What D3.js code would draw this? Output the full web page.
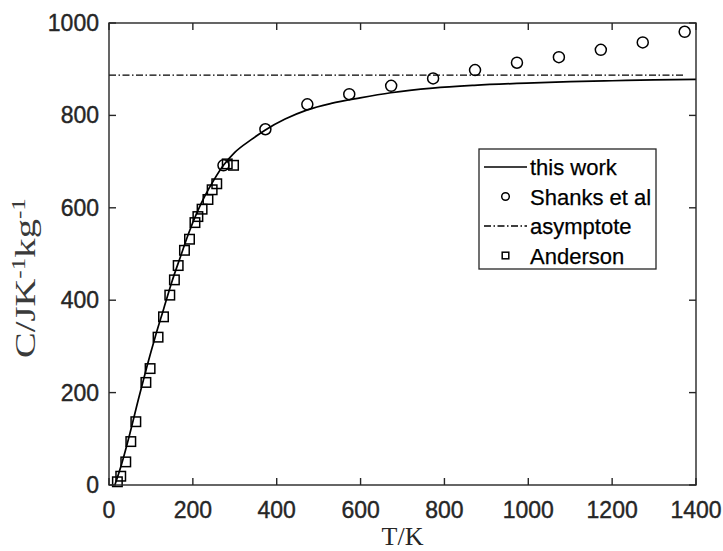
<!DOCTYPE html>
<html>
<head>
<meta charset="utf-8">
<script src="https://cdn.jsdelivr.net/npm/d3@7"></script>
<style>
  body { margin: 0; background: #fff; }
  svg { display: block; }
</style>
</head>
<body>
<script>
// this work (curve)
var curveT = [14, 30, 50, 70, 90, 110, 130, 150, 170, 190, 210, 230, 250, 273, 300, 340, 372, 420, 473, 530, 599, 672, 772, 871, 996, 1100, 1200, 1300, 1400];
var curveC = [0, 45, 112, 185, 255, 320, 380, 440, 493, 545, 590, 628, 660, 692, 720, 748, 768, 792, 812, 826, 838, 849, 859, 865, 870, 873, 875, 877, 878];

// Shanks et al
var shanksT = [273, 373, 473, 573, 673, 773, 873, 973, 1073, 1173, 1273, 1373];
var shanksC = [692, 770, 824, 846, 864, 880, 898, 914, 926, 942, 958, 981];

// asymptote
var asymT = [0, 1370];
var asymC = [887, 887];

// Anderson
var andT = [20, 28, 40, 52, 64, 88, 98, 117, 130, 145, 156, 165, 180, 192, 205, 212, 222, 236, 246, 257, 282, 297];
var andC = [7, 19, 50, 94, 137, 222, 252, 320, 364, 411, 444, 475, 508, 532, 568, 581, 597, 618, 639, 652, 695, 692];

var xTicks = [0, 200, 400, 600, 800, 1000, 1200, 1400];
var yTicks = [0, 200, 400, 600, 800, 1000];

var width = 723, height = 551;
var mLeft = 109, mRight = 696, mTop = 23, mBottom = 485;
var axisColor = '#262626';

var svg = d3.select('body')
            .append('svg')
            .attr('width', width)
            .attr('height', height);

var x = d3.scaleLinear().domain([0, 1400]).range([mLeft, mRight]);
var y = d3.scaleLinear().domain([0, 1000]).range([mBottom, mTop]);

function zip(a, b) {
    return a.map(function (d, i) { return [d, b[i]]; });
}

var line = d3.line()
    .x(function (d) { return x(d[0]); })
    .y(function (d) { return y(d[1]); });

// asymptote
svg.append('path')
    .attr('d', line(zip(asymT, asymC)))
    .attr('fill', 'none')
    .attr('stroke', '#000')
    .attr('stroke-width', 1.3)
    .attr('stroke-dasharray', '7,2.5,1.5,2.5');

// this work
svg.append('path')
    .attr('d', line.curve(d3.curveMonotoneX)(zip(curveT, curveC)))
    .attr('fill', 'none')
    .attr('stroke', '#000')
    .attr('stroke-width', 1.7);

// Shanks circles
svg.selectAll('circle.shanks')
    .data(zip(shanksT, shanksC))
    .enter()
    .append('circle')
    .attr('class', 'shanks')
    .attr('cx', function (d) { return x(d[0]); })
    .attr('cy', function (d) { return y(d[1]); })
    .attr('r', 5.5)
    .attr('fill', 'none')
    .attr('stroke', '#000')
    .attr('stroke-width', 1.5);

// Anderson squares
var sq = 9.5;
svg.selectAll('rect.anderson')
    .data(zip(andT, andC))
    .enter()
    .append('rect')
    .attr('class', 'anderson')
    .attr('x', function (d) { return x(d[0]) - sq / 2; })
    .attr('y', function (d) { return y(d[1]) - sq / 2; })
    .attr('width', sq)
    .attr('height', sq)
    .attr('fill', 'none')
    .attr('stroke', '#000')
    .attr('stroke-width', 1.5);

// axes box with inward ticks
var g = svg.append('g').attr('stroke', axisColor).attr('stroke-width', 1.4);
g.append('rect')
    .attr('x', mLeft).attr('y', mTop)
    .attr('width', mRight - mLeft).attr('height', mBottom - mTop)
    .attr('fill', 'none');
var tl = 7;
xTicks.forEach(function (t) {
    g.append('line').attr('x1', x(t)).attr('x2', x(t)).attr('y1', mBottom).attr('y2', mBottom - tl);
    g.append('line').attr('x1', x(t)).attr('x2', x(t)).attr('y1', mTop).attr('y2', mTop + tl);
});
yTicks.forEach(function (t) {
    g.append('line').attr('x1', mLeft).attr('x2', mLeft + tl).attr('y1', y(t)).attr('y2', y(t));
    g.append('line').attr('x1', mRight).attr('x2', mRight - tl).attr('y1', y(t)).attr('y2', y(t));
});

var sans = 'Arial, "Liberation Sans", Helvetica, sans-serif';
var serif = '"Times New Roman", "Liberation Serif", Times, serif';

svg.selectAll('text.xt')
    .data(xTicks)
    .enter()
    .append('text')
    .attr('class', 'xt')
    .attr('x', function (d) { return x(d); })
    .attr('y', 518)
    .attr('text-anchor', 'middle')
    .attr('font-family', sans)
    .attr('font-size', 23)
    .attr('fill', axisColor)
    .attr('stroke', axisColor)
    .attr('stroke-width', 0.4)
    .text(function (d) { return d; });

svg.selectAll('text.yt')
    .data(yTicks)
    .enter()
    .append('text')
    .attr('class', 'yt')
    .attr('x', 99)
    .attr('y', function (d) { return y(d) + 8; })
    .attr('text-anchor', 'end')
    .attr('font-family', sans)
    .attr('font-size', 23)
    .attr('fill', axisColor)
    .attr('stroke', axisColor)
    .attr('stroke-width', 0.4)
    .text(function (d) { return d; });

// axis labels
svg.append('text')
    .attr('x', (mLeft + mRight) / 2)
    .attr('y', 545)
    .attr('text-anchor', 'middle')
    .attr('font-family', serif)
    .attr('font-size', 26)
    .attr('fill', axisColor)
    .text('T/K');

var yl = svg.append('text')
    .attr('transform', 'translate(35,278) rotate(-90)')
    .attr('text-anchor', 'middle')
    .attr('font-family', serif)
    .attr('font-size', 29)
    .attr('fill', '#3a3a3a')
    .attr('textLength', 160)
    .attr('lengthAdjust', 'spacingAndGlyphs');
yl.append('tspan').text('C/JK');
yl.append('tspan').attr('dy', -10).attr('font-size', 19).text('-1');
yl.append('tspan').attr('dy', 10).text('kg');
yl.append('tspan').attr('dy', -10).attr('font-size', 19).text('-1');

// legend
var lg = svg.append('g');
lg.append('rect')
    .attr('x', 479).attr('y', 149)
    .attr('width', 177).attr('height', 120)
    .attr('fill', '#fff')
    .attr('stroke', axisColor)
    .attr('stroke-width', 1.3);
var labels = ['this work', 'Shanks et al', 'asymptote', 'Anderson'];
var rowY = [167, 196.5, 226, 255.5];
lg.selectAll('text')
    .data(labels)
    .enter()
    .append('text')
    .attr('x', 530)
    .attr('y', function (d, i) { return rowY[i] + 8; })
    .attr('font-family', sans)
    .attr('font-size', 22)
    .attr('fill', '#000')
    .attr('stroke', '#000')
    .attr('stroke-width', 0.25)
    .text(function (d) { return d; });
lg.append('line')
    .attr('x1', 484).attr('x2', 527).attr('y1', rowY[0]).attr('y2', rowY[0])
    .attr('stroke', '#000').attr('stroke-width', 1.7);
lg.append('circle')
    .attr('cx', 505.5).attr('cy', rowY[1]).attr('r', 3.8)
    .attr('fill', 'none').attr('stroke', '#000').attr('stroke-width', 1.5);
lg.append('line')
    .attr('x1', 484).attr('x2', 527).attr('y1', rowY[2]).attr('y2', rowY[2])
    .attr('stroke', '#000').attr('stroke-width', 1.3)
    .attr('stroke-dasharray', '7,2.5,1.5,2.5');
lg.append('rect')
    .attr('x', 505.5 - 3.3).attr('y', rowY[3] - 3.3).attr('width', 6.6).attr('height', 6.6)
    .attr('fill', 'none').attr('stroke', '#000').attr('stroke-width', 1.5);
</script>
</body>
</html>
